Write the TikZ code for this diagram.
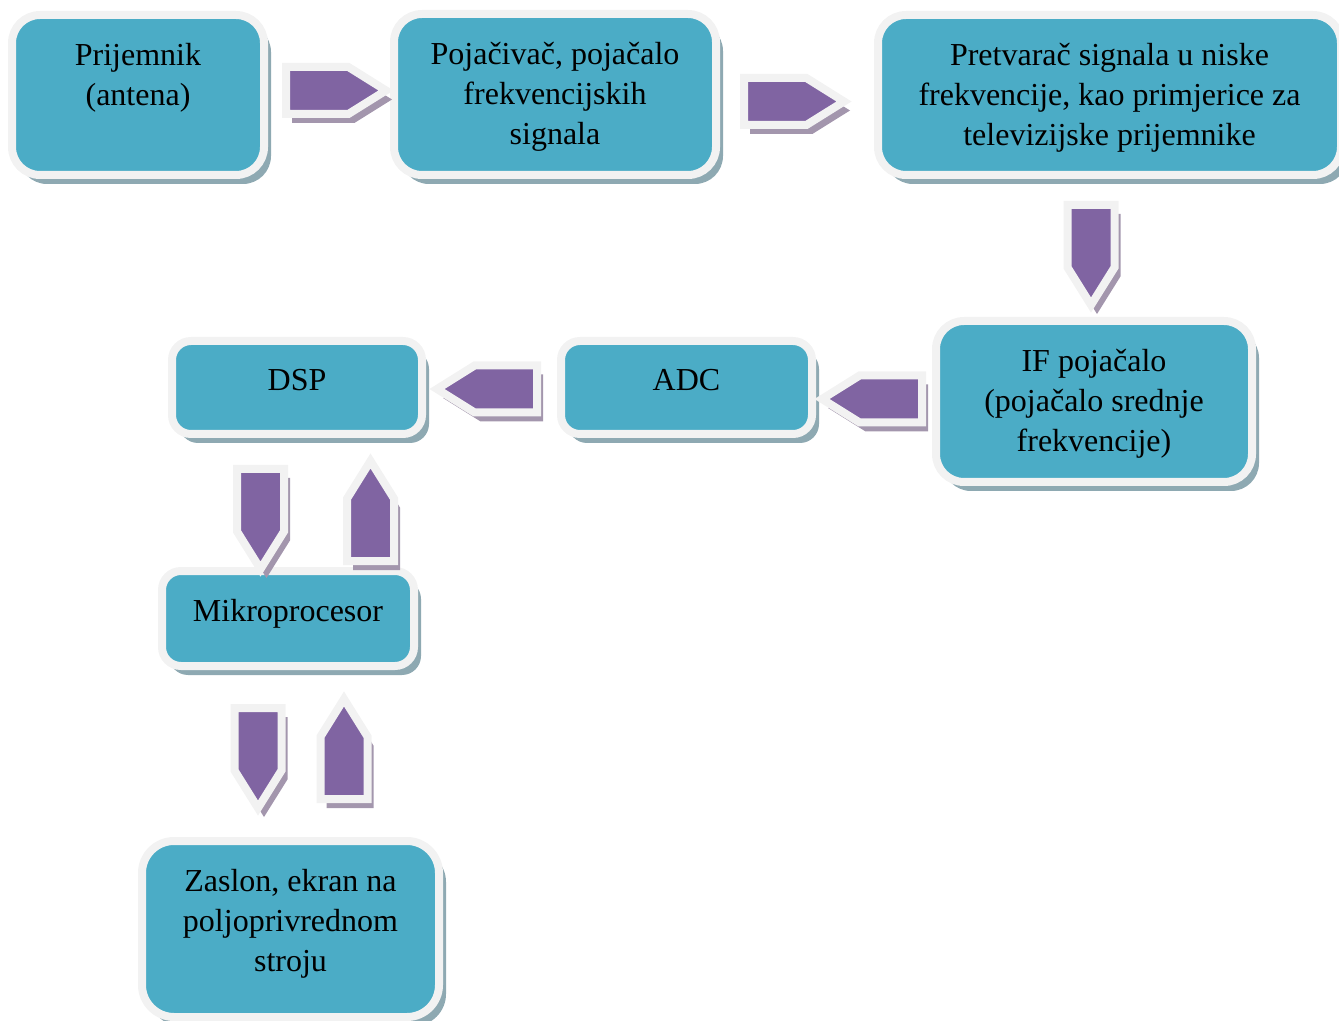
\documentclass[tikz,border=0pt]{standalone}
\usepackage{fontspec}
\setmainfont{Liberation Serif}
\usetikzlibrary{positioning,shapes.symbols,shadows}
\definecolor{boxfill}{HTML}{4BACC6}
\definecolor{arrowfill}{HTML}{8064A2}
\definecolor{rimcol}{HTML}{F2F2F2}
\definecolor{boxshade}{HTML}{8EA9B2}
\definecolor{arrowshade}{HTML}{A396AD}

\begin{document}
\begin{tikzpicture}[x=0.5pt, y=-0.5pt,
    box/.style={draw=rimcol, line width=4pt, fill=boxfill, rounded corners=#1,
        drop shadow={shadow xshift=3.5pt, shadow yshift=-4.5pt, fill=boxshade, opacity=1}},
    box/.default=14pt,
    txt/.style={align=center, inner sep=0pt, font=\fontsize{16}{20}\selectfont},
    blockarrow/.style={signal, signal pointer angle=64, draw=rimcol, line width=4pt,
        fill=arrowfill, inner sep=0pt,
        drop shadow={shadow xshift=3pt, shadow yshift=-4.5pt, fill=arrowshade, opacity=1}},
    harrow/.style={blockarrow, minimum width=50pt, minimum height=23.5pt},
    varrow/.style={blockarrow, minimum width=23.5pt, minimum height=31.2pt}]
    \useasboundingbox (0,0) rectangle (1339,1021);

    \node[box, minimum width=126pt, minimum height=80pt] (prij) at (138,95) {};
    \node[box, minimum width=161pt, minimum height=80.5pt] (poj) at (555,94.5) {};
    \node[box, minimum width=231.5pt, minimum height=80pt] (pret) at (1109.5,95) {};
    \node[box, minimum width=158pt, minimum height=80.5pt] (ifp) at (1094,401.5) {};
    \node[box=9.5pt, minimum width=125.5pt, minimum height=46.5pt] (adc) at (686.5,387.5) {};
    \node[box=9.5pt, minimum width=125pt, minimum height=46.5pt] (dsp) at (297,387.5) {};
    \node[box=9.5pt, minimum width=126pt, minimum height=47.5pt] (mikro) at (288,618.5) {};
    \node[box=16pt, minimum width=148.5pt, minimum height=88pt] (zaslon) at (290.5,929) {};

    \node[txt, below=16pt of prij.north] (prijT) {Prijemnik\\(antena)};
    \node[txt, below=16pt of poj.north] (pojT) {Pojačivač, pojačalo\\frekvencijskih\\signala};
    \node[txt, below=16pt of pret.north] (pretT) {Pretvarač signala u niske\\frekvencije, kao primjerice za\\televizijske prijemnike};
    \node[txt, below=16pt of ifp.north] (ifpT) {IF pojačalo\\(pojačalo srednje\\frekvencije)};
    \node[txt, below=16pt of adc.north] (adcT) {ADC};
    \node[txt, below=16pt of dsp.north] (dspT) {DSP};
    \node[txt, below=16pt of mikro.north] (mikroT) {Mikroprocesor};
    \node[txt, below=16pt of zaslon.north] (zaslonT) {Zaslon, ekran na\\poljoprivrednom\\stroju};

    \node[harrow, signal to=east, anchor=west] (a1) at (282,90.5) {};
    \node[harrow, signal to=east, anchor=west] (a2) at (740,101.5) {};
    \node[varrow, signal to=south, anchor=north] (a3) at (1091,201) {};
    \node[harrow, signal to=west, anchor=east] (a4) at (926,399) {};
    \node[harrow, signal to=west, anchor=east] (a5) at (541,389) {};
    \node[varrow, signal to=south, anchor=north] (a6) at (260.5,465) {};
    \node[varrow, signal to=north, anchor=south] (a7) at (370.5,565) {};
    \node[varrow, signal to=south, anchor=north] (a8) at (258,704) {};
    \node[varrow, signal to=north, anchor=south] (a9) at (344,803) {};
\end{tikzpicture}
\end{document}
